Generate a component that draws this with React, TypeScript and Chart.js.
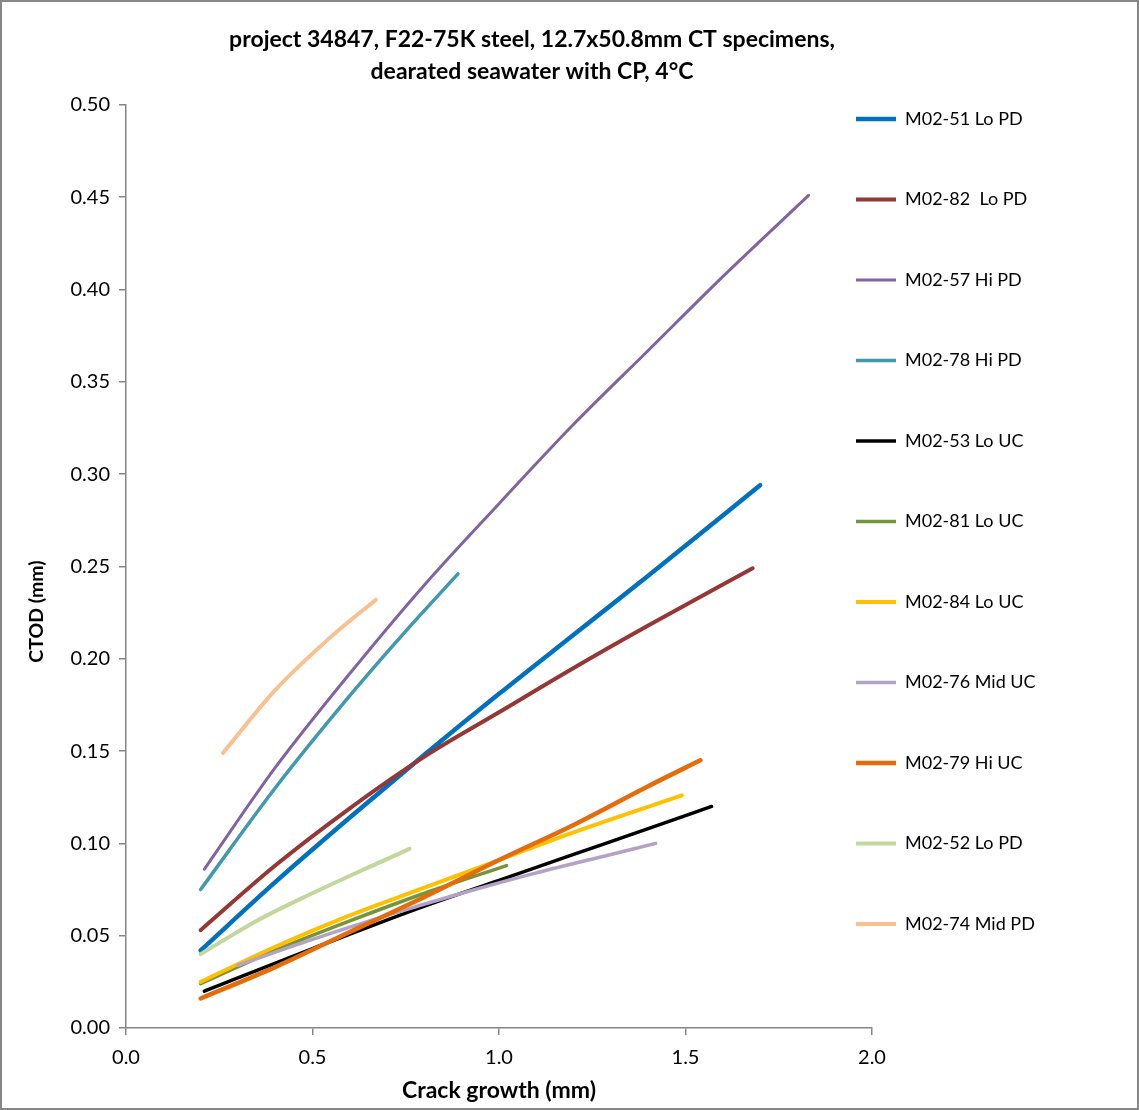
import React, { useEffect, useRef } from "react";
import { Chart, registerables } from "chart.js";

Chart.register(...registerables);

// ---------- text ----------
const TITLE_LINES = [
  "project 34847, F22-75K steel, 12.7x50.8mm CT specimens,",
  "dearated seawater with CP, 4°C",
];
const X_LABEL = "Crack growth (mm)";
const Y_LABEL = "CTOD (mm)";

// ---------- ticks ----------
const X_TICKS = [0, 0.5, 1.0, 1.5, 2.0];
const Y_TICKS = [0, 0.05, 0.1, 0.15, 0.2, 0.25, 0.3, 0.35, 0.4, 0.45, 0.5];

// ---------- series names ----------
const SERIES_NAMES = [
  "M02-51 Lo PD",
  "M02-82  Lo PD",
  "M02-57 Hi PD",
  "M02-78 Hi PD",
  "M02-53 Lo UC",
  "M02-81 Lo UC",
  "M02-84 Lo UC",
  "M02-76 Mid UC",
  "M02-79 Hi UC",
  "M02-52 Lo PD",
  "M02-74 Mid PD",
];

// ---------- series values (crack growth mm, CTOD mm) ----------
const M02_51_X = [0.2, 0.4, 0.6, 0.8, 1.0, 1.2, 1.4, 1.7];
const M02_51_Y = [0.042, 0.079, 0.114, 0.148, 0.181, 0.213, 0.245, 0.294];

const M02_82_X = [0.2, 0.4, 0.6, 0.8, 1.0, 1.2, 1.4, 1.68];
const M02_82_Y = [0.053, 0.088, 0.119, 0.147, 0.171, 0.195, 0.218, 0.249];

const M02_57_X = [0.21, 0.4, 0.6, 0.8, 1.0, 1.2, 1.4, 1.6, 1.83];
const M02_57_Y = [0.086, 0.141, 0.192, 0.24, 0.284, 0.327, 0.367, 0.407, 0.451];

const M02_78_X = [0.2, 0.4, 0.6, 0.75, 0.89];
const M02_78_Y = [0.075, 0.13, 0.18, 0.215, 0.246];

const M02_53_X = [0.21, 0.5, 0.8, 1.0, 1.2, 1.4, 1.57];
const M02_53_Y = [0.02, 0.043, 0.066, 0.08, 0.094, 0.108, 0.12];

const M02_81_X = [0.2, 0.4, 0.6, 0.8, 1.02];
const M02_81_Y = [0.024, 0.042, 0.058, 0.073, 0.088];

const M02_84_X = [0.2, 0.4, 0.6, 0.8, 1.0, 1.2, 1.49];
const M02_84_Y = [0.025, 0.044, 0.061, 0.076, 0.091, 0.106, 0.126];

const M02_76_X = [0.3, 0.5, 0.7, 0.9, 1.1, 1.3, 1.42];
const M02_76_Y = [0.034, 0.048, 0.061, 0.073, 0.084, 0.094, 0.1];

const M02_79_X = [0.2, 0.4, 0.6, 0.8, 1.0, 1.2, 1.4, 1.54];
const M02_79_Y = [0.016, 0.033, 0.052, 0.071, 0.091, 0.11, 0.131, 0.145];

const M02_52_X = [0.2, 0.35, 0.5, 0.65, 0.76];
const M02_52_Y = [0.04, 0.058, 0.073, 0.087, 0.097];

const M02_74_X = [0.26, 0.4, 0.55, 0.67];
const M02_74_Y = [0.149, 0.183, 0.212, 0.232];

const SERIES_X = [M02_51_X, M02_82_X, M02_57_X, M02_78_X, M02_53_X, M02_81_X, M02_84_X, M02_76_X, M02_79_X, M02_52_X, M02_74_X];
const SERIES_Y = [M02_51_Y, M02_82_Y, M02_57_Y, M02_78_Y, M02_53_Y, M02_81_Y, M02_84_Y, M02_76_Y, M02_79_Y, M02_52_Y, M02_74_Y];

// ---------- styles ----------
const COLORS = ["#0070C0", "#953735", "#8064A2", "#4198AF", "#000000", "#77933C", "#FFC000", "#B3A2C7", "#E46C0A", "#C3D69B", "#FAC090"];
const WIDTHS = [4.5, 4, 3, 3.5, 3.5, 3.5, 4, 3.5, 4.5, 4, 4];

const FONT = "Lato";
const AXIS_GREY = "#868686";
// trailing spaces push the rotated y-axis title down, as in the original layout
const Y_TITLE_SHIFT = " ".repeat(19);

const legendPlacer = {
  id: "legendPlacer",
  afterLayout(chart: any) {
    const lg = chart.legend;
    if (!lg) return;
    const pad = lg.options.labels.padding;
    const fs = lg.options.labels.font.size;
    const left = chart.chartArea.right - 16 - pad;
    const top = chart.chartArea.top + 14 - fs / 2 - pad;
    lg.left = left;
    lg.right = left + 400;
    lg.top = top;
    lg.bottom = top + 2000;
  },
};

export default function App() {
  const ref = useRef<HTMLCanvasElement>(null);

  useEffect(() => {
    const datasets = SERIES_NAMES.map((name, i) => ({
      label: name,
      data: SERIES_X[i].map((x, j) => ({ x, y: SERIES_Y[i][j] })),
      borderColor: COLORS[i],
      backgroundColor: COLORS[i],
      borderWidth: WIDTHS[i],
      borderCapStyle: "round" as const,
      borderJoinStyle: "round" as const,
      pointRadius: 0,
      pointHoverRadius: 0,
      fill: false,
      cubicInterpolationMode: "monotone" as const,
      tension: 0.4,
      order: SERIES_NAMES.length - i,
    }));

    const chart = new Chart(ref.current!, {
      type: "scatter",
      data: { datasets },
      plugins: [legendPlacer],
      options: {
        responsive: false,
        animation: false,
        showLine: true,
        layout: { padding: { left: 0, right: 75, top: 0, bottom: 0 } },
        plugins: {
          tooltip: { enabled: false },
          title: {
            display: true,
            text: TITLE_LINES,
            color: "#000",
            font: { family: FONT, size: 23, weight: "bold", lineHeight: 1.39 },
            padding: { top: 22, bottom: 17 },
          },
          legend: {
            display: true,
            position: "right",
            align: "start",
            maxWidth: 190,
            labels: {
              color: "#000",
              font: { family: FONT, size: 18 },
              usePointStyle: true,
              pointStyle: "line",
              pointStyleWidth: 40,
              padding: 62.5,
              sort: (a: any, b: any) => a.datasetIndex - b.datasetIndex,
            },
          },
        },
        scales: {
          x: {
            type: "linear",
            min: 0,
            max: 2,
            afterBuildTicks: (s: any) => {
              s.ticks = X_TICKS.map((v) => ({ value: v }));
            },
            afterFit: (s: any) => {
              s.height = 80;
            },
            ticks: {
              callback: (v: any) => Number(v).toFixed(1),
              color: "#000",
              font: { family: FONT, size: 20 },
              padding: 11,
              maxRotation: 0,
            },
            grid: {
              display: true,
              drawOnChartArea: false,
              drawTicks: true,
              tickLength: 7,
              color: AXIS_GREY,
              lineWidth: 1.5,
            },
            border: { display: true, color: AXIS_GREY, width: 1.5 },
            title: {
              display: true,
              text: X_LABEL,
              color: "#000",
              font: { family: FONT, size: 23, weight: "bold" },
              padding: { top: 0, bottom: 4 },
            },
          },
          y: {
            type: "linear",
            min: 0,
            max: 0.5,
            afterBuildTicks: (s: any) => {
              s.ticks = Y_TICKS.map((v) => ({ value: v }));
            },
            afterFit: (s: any) => {
              s.width = 124;
            },
            ticks: {
              callback: (v: any) => Number(v).toFixed(2),
              color: "#000",
              font: { family: FONT, size: 20 },
              padding: 9,
            },
            grid: {
              display: true,
              drawOnChartArea: false,
              drawTicks: true,
              tickLength: 7,
              color: AXIS_GREY,
              lineWidth: 1.5,
            },
            border: { display: true, color: AXIS_GREY, width: 1.5 },
            title: {
              display: true,
              text: Y_LABEL + Y_TITLE_SHIFT,
              color: "#000",
              font: { family: FONT, size: 19.5, weight: "bold" },
              padding: { top: 23, bottom: 0 },
            },
          },
        },
      } as any,
    });
    return () => chart.destroy();
  }, []);

  return (
    <div
      style={{
        position: "absolute",
        left: 0,
        top: 0,
        width: 1139,
        height: 1110,
        boxSizing: "border-box",
        border: "2px solid #878787",
        background: "#fff",
      }}
    >
      <canvas ref={ref} width={1135} height={1106} style={{ display: "block", width: 1135, height: 1106 }} />
    </div>
  );
}
